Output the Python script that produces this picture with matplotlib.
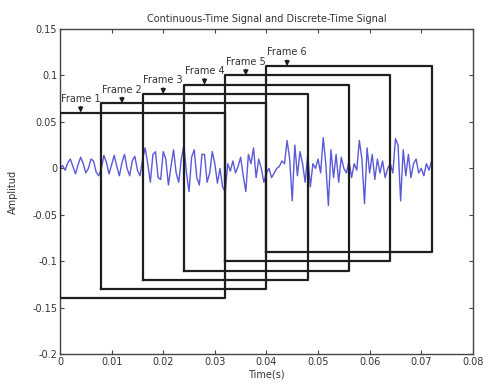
import numpy as np
import matplotlib
matplotlib.use('Agg')
import matplotlib.pyplot as plt

# Signal (in thousandths), sampled every 0.5 ms from 0 to 72 ms
signal_milli = [
    0, 3, -2, 6, 10, 2, -6, 4, 12, 5, -5, 0, 10, 8, -4, -8,
    0, 14, 6, -6, 4, 14, 2, -8, 6, 15, 0, -8, 8, 13, -2, -8,
    10, 22, 5, -15, 15, 18, -10, -12, 18, 10, -18, 2, 20, -5, -15, 10,
    25, -5, -25, 12, 20, -10, -18, 15, 15, -15, -5, 18, 5, -16, 0, -20,
    -25, 5, -3, 8, -5, 2, 12, -8, -25, 15, 5, 22, -10, 10, 0, -15,
    -5, 0, -10, -5, 0, 2, 8, 5, 30, 10, -35, 25, -8, 18, 5, -15,
    15, -20, 5, 0, 10, -5, 33, 5, -40, 20, -10, 15, -15, 12, 0, -5,
    8, -10, 5, -2, 30, 10, -38, 22, -5, 15, -12, 10, -5, 8, -10, 0,
    5, -5, 32, 25, -35, 20, -8, 15, -10, 5, 10, -5, 0, -8, 5, -2, 8,
]
sample_step = 0.0005

# Frames
frame_names = ['Frame 1', 'Frame 2', 'Frame 3', 'Frame 4', 'Frame 5', 'Frame 6']
frame_start = [0.0, 0.008, 0.016, 0.024, 0.032, 0.040]
frame_length = 0.032
frame_top = [0.06, 0.07, 0.08, 0.09, 0.10, 0.11]
frame_bottom = [-0.14, -0.13, -0.12, -0.11, -0.10, -0.09]

x_ticks = [0, 0.01, 0.02, 0.03, 0.04, 0.05, 0.06, 0.07, 0.08]
x_labels = ['0', '0.01', '0.02', '0.03', '0.04', '0.05', '0.06', '0.07', '0.08']
y_ticks = [-0.2, -0.15, -0.1, -0.05, 0, 0.05, 0.1, 0.15]
y_labels = ['-0.2', '-0.15', '-0.1', '-0.05', '0', '0.05', '0.1', '0.15']

txt = '#333333'
fig = plt.figure(figsize=(4.88, 3.87), dpi=100)
ax = fig.add_axes([0.123, 0.085, 0.846, 0.84])

sig = np.array(signal_milli) / 1000.0
t = np.arange(len(sig)) * sample_step
ax.plot(t, sig, color='#5a5ad8', lw=1.0, zorder=2)

for name, x0, top, bot in zip(frame_names, frame_start, frame_top, frame_bottom):
    x1 = x0 + frame_length
    ax.plot([x0, x0, x1, x1, x0], [bot, top, top, bot, bot],
            color='#1e1e1e', lw=1.6, zorder=3)
    ax.annotate(name, xy=(x0 + 0.004, top), xytext=(x0 + 0.004, top + 0.0095),
                ha='center', va='bottom', fontsize=7, color=txt,
                arrowprops=dict(arrowstyle='-|>', color='#1e1e1e', lw=1.0,
                                mutation_scale=7, shrinkA=0, shrinkB=0))

ax.set_xlim(0, 0.08)
ax.set_ylim(-0.2, 0.15)
ax.set_xticks(x_ticks)
ax.set_xticklabels(x_labels)
ax.set_yticks(y_ticks)
ax.set_yticklabels(y_labels)
ax.tick_params(direction='in', length=3, width=0.8, top=True, right=True,
               labelsize=7, labelcolor=txt, color='#444444', pad=2)
for s in ax.spines.values():
    s.set_color('#444444')
    s.set_linewidth(1.0)

ax.set_title('Continuous-Time Signal and Discrete-Time Signal', fontsize=7, color=txt, pad=5)
ax.set_xlabel('Time(s)', fontsize=7, color=txt, labelpad=2)
ax.set_ylabel('Amplitud', fontsize=7, color=txt, labelpad=10)

fig.savefig('out.png', dpi=100)
